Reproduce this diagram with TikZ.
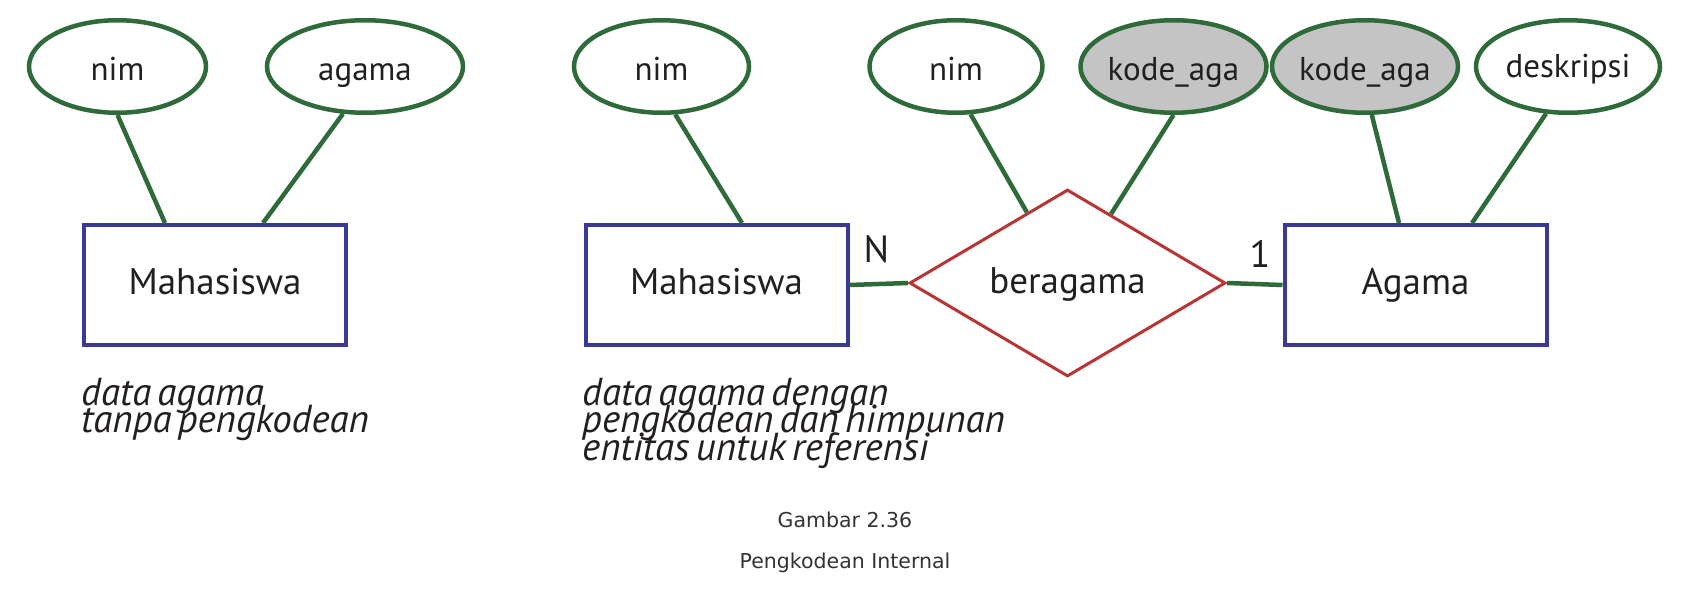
\documentclass[tikz,border=0pt]{standalone}
\usepackage{fontspec}
\setmainfont{PT Sans}
\newfontfamily\notefont[WordSpace=0.6]{PT Sans}
\newfontfamily\capfont{DejaVu Sans}
\usetikzlibrary{shapes.geometric}
\definecolor{ergreen}{HTML}{2F6B3A}
\definecolor{erblue}{HTML}{3A3A96}
\definecolor{erred}{HTML}{B83535}
\definecolor{ergray}{HTML}{C4C4C4}
\definecolor{ertext}{HTML}{231F20}
\definecolor{captext}{HTML}{333333}
\begin{document}
\begin{tikzpicture}[x=1pt,y=-1pt,
  attr/.style={ellipse, draw=ergreen, line width=4.5pt, fill=white, inner sep=0pt,
    minimum height=92.5pt, text=ertext, font=\fontsize{33}{36}\selectfont,
    text height=28pt, text depth=1pt},
  keyattr/.style={attr, fill=ergray},
  entity/.style={rectangle, draw=erblue, line width=4pt, fill=white,
    minimum width=262pt, minimum height=120pt, inner sep=0pt, text=ertext,
    font=\fontsize{37}{40}\selectfont, text height=26pt, text depth=8pt},
  relship/.style={diamond, draw=erred, line width=3pt, fill=white,
    minimum width=316pt, minimum height=187pt, aspect=1.7, inner sep=0pt,
    text=ertext, font=\fontsize{37}{40}\selectfont, text height=27pt, text depth=7pt},
  link/.style={draw=ergreen, line width=4.5pt},
  card/.style={text=ertext, font=\fontsize{38}{40}\selectfont, inner sep=0pt, anchor=base},
  noteline/.style={text=ertext, inner sep=0pt, anchor=base west,
    font=\notefont\itshape\fontsize{39}{40}\selectfont},
  caption/.style={text=captext, font=\capfont\fontsize{20.5}{24}\selectfont, inner sep=0pt, anchor=base},
]
\useasboundingbox (0,0) rectangle (1690,589);

% left diagram
\node[attr, minimum width=177pt] (nimA) at (117.5,66.5) {nim};
\node[attr, minimum width=196pt] (agamaA) at (365,66.5) {agama};
\node[entity] (mhsA) at (215,285) {Mahasiswa};
\draw[link] (nimA.south) -- ([xshift=-50pt]mhsA.north);
\draw[link] (agamaA.245) -- ([xshift=48pt]mhsA.north);
\node[noteline] (noteA1) at (81,405) {data agama};
\node[noteline] (noteA2) at (81,432.5) {tanpa pengkodean};

% right diagram
\node[attr, minimum width=175pt] (nimB) at (661.5,66.5) {nim};
\node[attr, minimum width=173pt] (nimC) at (956,66.5) {nim};
\node[keyattr, minimum width=179pt] (kodeA) at (1173.5,66.5) {kode\_aga};
\node[keyattr, minimum width=176pt] (kodeB) at (1365,66.5) {kode\_aga};
\node[attr, minimum width=184pt, text depth=6pt] (desk) at (1568,66.5) {deskripsi};

\node[entity] (mhsB) at (716.5,285) {Mahasiswa};
\node[relship] (rel) at (1067.5,283) {beragama};
\node[entity] (agm) at (1415.5,285) {Agama};

\draw[link] (nimB.286) -- ([xshift=25.5pt]mhsB.north);
\draw[link] (nimC.287) -- (rel);
\draw[link] (kodeA.south) -- (rel);
\draw[link] (kodeB.278) -- ([xshift=-16.5pt]agm.north);
\draw[link] (desk.245) -- ([xshift=56.5pt]agm.north);
\draw[link] (mhsB.east) -- (rel.west);
\draw[link] (rel.east) -- (agm.west);

\node[card] (cardN) at (876.5,262) {N};
\node[card] (card1) at (1260,267) {1};

\node[noteline] (noteB1) at (582,405) {data agama dengan};
\node[noteline] (noteB2) at (582,432.5) {pengkodean dan himpunan};
\node[noteline] (noteB3) at (582,460) {entitas untuk referensi};

% caption
\node[caption] (capA) at (845,527) {Gambar 2.36};
\node[caption] (capB) at (845,568) {Pengkodean Internal};
\end{tikzpicture}
\end{document}
